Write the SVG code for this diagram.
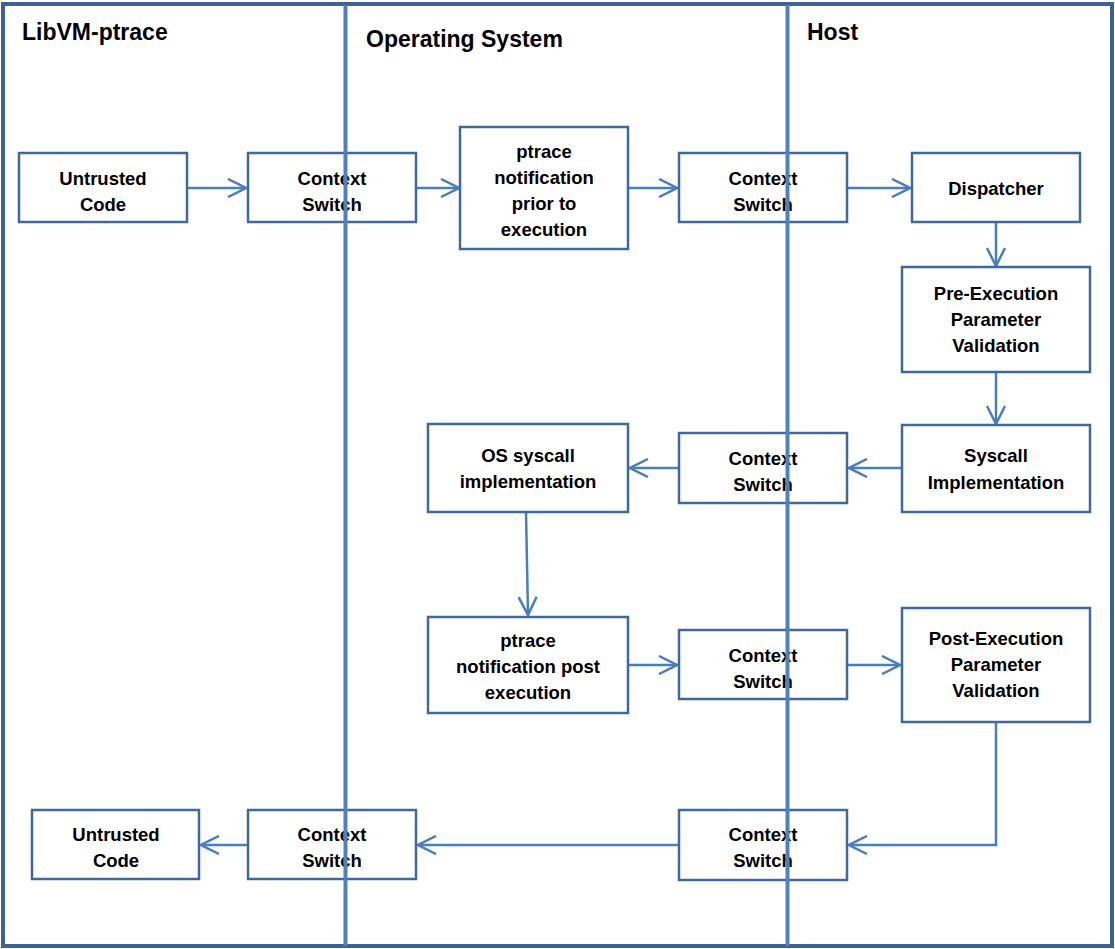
<svg xmlns="http://www.w3.org/2000/svg" width="1115" height="949" viewBox="0 0 1115 949">
<style>
.box{fill:#fff;stroke:#41689a;stroke-width:2.5}
.t{font-family:"Liberation Sans",Arial,sans-serif;font-weight:bold;font-size:18.5px;fill:#000;text-anchor:middle}
.title{font-family:"Liberation Sans",Arial,sans-serif;font-weight:bold;font-size:23px;fill:#000}
.c{fill:none;stroke:#4a7ebb;stroke-width:2.5}
.lane{stroke:#4f81bd;stroke-width:4;fill:none}
</style>
<defs>
<marker id="ah" viewBox="0 0 20 20" refX="19" refY="10" markerWidth="20" markerHeight="20" markerUnits="userSpaceOnUse" orient="auto">
<path d="M1,1 L19,10 L1,19" fill="none" stroke="#4a7ebb" stroke-width="2.5"/>
</marker>
</defs>
<rect width="1115" height="949" fill="#fff"/>
<g id="frame">
<rect x="3" y="4" width="1109" height="942" fill="none" stroke="#3e6192" stroke-width="4"/>
<text class="title" x="22" y="40">LibVM-ptrace</text>
<text class="title" x="366" y="47">Operating System</text>
<text class="title" x="807" y="40">Host</text>
</g>
<g id="connectors">
<line class="c" x1="187" y1="188" x2="246" y2="188" marker-end="url(#ah)"/>
<line class="c" x1="416" y1="188" x2="459" y2="188" marker-end="url(#ah)"/>
<line class="c" x1="628" y1="188" x2="677" y2="188" marker-end="url(#ah)"/>
<line class="c" x1="847" y1="188" x2="910" y2="188" marker-end="url(#ah)"/>
<line class="c" x1="996" y1="222" x2="996" y2="266" marker-end="url(#ah)"/>
<line class="c" x1="996" y1="372" x2="996" y2="424" marker-end="url(#ah)"/>
<line class="c" x1="902" y1="468" x2="849" y2="468" marker-end="url(#ah)"/>
<line class="c" x1="679" y1="468" x2="630" y2="468" marker-end="url(#ah)"/>
<line class="c" x1="526" y1="512" x2="528" y2="615" marker-end="url(#ah)"/>
<line class="c" x1="628" y1="665" x2="677" y2="665" marker-end="url(#ah)"/>
<line class="c" x1="847" y1="665" x2="900" y2="665" marker-end="url(#ah)"/>
<polyline class="c" points="996,722 996,845 849,845" marker-end="url(#ah)"/>
<line class="c" x1="679" y1="845" x2="418" y2="845" marker-end="url(#ah)"/>
<line class="c" x1="248" y1="845" x2="201" y2="845" marker-end="url(#ah)"/>
</g>
<g id="untrusted1"><rect class="box" x="19" y="153" width="168" height="69"/><text class="t" x="103" y="185">Untrusted</text><text class="t" x="103" y="211">Code</text></g>
<g id="cs1"><rect class="box" x="248" y="153" width="168" height="69"/><text class="t" x="332" y="185">Context</text><text class="t" x="332" y="211">Switch</text></g>
<g id="ptrace_prior"><rect class="box" x="460" y="127" width="168" height="122"/><text class="t" x="544" y="158">ptrace</text><text class="t" x="544" y="184">notification</text><text class="t" x="544" y="210">prior to</text><text class="t" x="544" y="236">execution</text></g>
<g id="cs2"><rect class="box" x="679" y="153" width="168" height="69"/><text class="t" x="763" y="185">Context</text><text class="t" x="763" y="211">Switch</text></g>
<g id="dispatcher"><rect class="box" x="912" y="153" width="168" height="69"/><text class="t" x="996" y="195">Dispatcher</text></g>
<g id="preexec"><rect class="box" x="902" y="267" width="188" height="105"/><text class="t" x="996" y="300">Pre-Execution</text><text class="t" x="996" y="326">Parameter</text><text class="t" x="996" y="352">Validation</text></g>
<g id="syscall"><rect class="box" x="902" y="425" width="188" height="87"/><text class="t" x="996" y="462">Syscall</text><text class="t" x="996" y="489">Implementation</text></g>
<g id="cs3"><rect class="box" x="679" y="433" width="168" height="70"/><text class="t" x="763" y="465">Context</text><text class="t" x="763" y="491">Switch</text></g>
<g id="os_syscall"><rect class="box" x="428" y="424" width="200" height="88"/><text class="t" x="528" y="462">OS syscall</text><text class="t" x="528" y="488">implementation</text></g>
<g id="ptrace_post"><rect class="box" x="428" y="617" width="200" height="96"/><text class="t" x="528" y="647">ptrace</text><text class="t" x="528" y="673">notification post</text><text class="t" x="528" y="699">execution</text></g>
<g id="cs4"><rect class="box" x="679" y="630" width="168" height="69"/><text class="t" x="763" y="662">Context</text><text class="t" x="763" y="688">Switch</text></g>
<g id="postexec"><rect class="box" x="902" y="608" width="188" height="114"/><text class="t" x="996" y="645">Post-Execution</text><text class="t" x="996" y="671">Parameter</text><text class="t" x="996" y="697">Validation</text></g>
<g id="cs5"><rect class="box" x="679" y="810" width="168" height="70"/><text class="t" x="763" y="841">Context</text><text class="t" x="763" y="867">Switch</text></g>
<g id="cs6"><rect class="box" x="248" y="810" width="168" height="69"/><text class="t" x="332" y="841">Context</text><text class="t" x="332" y="867">Switch</text></g>
<g id="untrusted2"><rect class="box" x="32" y="810" width="167" height="69"/><text class="t" x="116" y="841">Untrusted</text><text class="t" x="116" y="867">Code</text></g>
<g id="lanes">
<line class="lane" x1="345.5" y1="5" x2="345.5" y2="946"/>
<line class="lane" x1="787.5" y1="5" x2="787.5" y2="946"/>
</g>
</svg>
